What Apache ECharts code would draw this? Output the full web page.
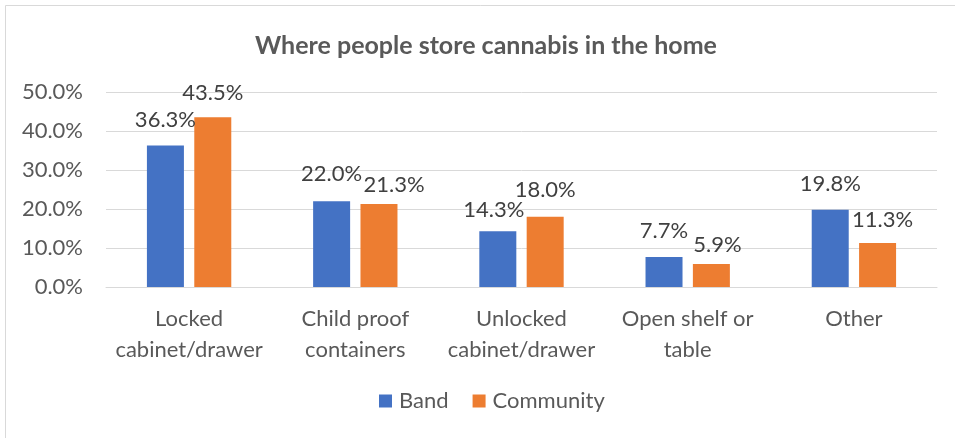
<!DOCTYPE html>
<html>
<head>
<meta charset="utf-8">
<script src="https://cdn.jsdelivr.net/npm/echarts@6/dist/echarts.min.js"></script>
<style>
  html, body { margin: 0; padding: 0; background: #ffffff; }
  #chart { width: 955px; height: 438px; }
</style>
</head>
<body>
<div id="chart"></div>
<script>
// Storage locations and the share of respondents in each group
const categories = [
  'Locked\ncabinet/drawer',
  'Child proof\ncontainers',
  'Unlocked\ncabinet/drawer',
  'Open shelf or\ntable',
  'Other'
];
const bandValues = [36.3, 22.0, 14.3, 7.7, 19.8];
const communityValues = [43.5, 21.3, 18.0, 5.9, 11.3];
const seriesNames = ['Band', 'Community'];

// Hand-placed label nudges [dx, dy] in px so neighbouring labels don't collide
const bandLabelNudge = [[0, 0], [0, -1], [-4, 5], [0, 0], [0, 0]];
const communityLabelNudge = [[0, 1.5], [15, 7], [0, -1], [6, 6.5], [5, 2.5]];

const FONT = 'Lato, "Open Sans", sans-serif';
const TEXT = '#595959';

const chart = echarts.init(document.getElementById('chart'), null, { renderer: 'canvas' });

const baseLabel = {
  show: true,
  position: 'top',
  distance: 15,
  color: '#404040',
  fontFamily: FONT,
  fontSize: 22,
  formatter: p => p.value.toFixed(1) + '%'
};

function barData(values, nudges) {
  return values.map((v, i) => ({
    value: v,
    label: { offset: nudges[i] }
  }));
}

chart.setOption({
  backgroundColor: '#ffffff',
  animation: false,
  graphic: [{
    type: 'rect',
    shape: { x: 5.5, y: 5.5, width: 960, height: 440 },
    style: { fill: 'none', stroke: '#d9d9d9', lineWidth: 1 },
    silent: true,
    z: -1
  }],
  title: {
    text: 'Where people store cannabis in the home',
    left: 250,
    top: 28,
    textStyle: { color: TEXT, fontFamily: FONT, fontSize: 25, fontWeight: 'bold' }
  },
  legend: {
    data: seriesNames,
    bottom: 21,
    left: 374,
    itemWidth: 13,
    itemHeight: 13,
    itemGap: 24,
    icon: 'rect',
    textStyle: { color: TEXT, fontFamily: FONT, fontSize: 22, padding: [0, 0, 0, 2] }
  },
  grid: { left: 106, right: 18, top: 92, bottom: 151, containLabel: false },
  xAxis: {
    type: 'category',
    data: categories,
    axisLine: { lineStyle: { color: '#d9d9d9', width: 1 } },
    axisTick: { show: false },
    axisLabel: {
      color: TEXT, fontFamily: FONT, fontSize: 22, lineHeight: 31, margin: 16, interval: 0
    }
  },
  yAxis: {
    type: 'value',
    min: 0,
    max: 50,
    interval: 10,
    axisLine: { show: false },
    axisTick: { show: false },
    splitLine: { lineStyle: { color: '#d9d9d9', width: 1 } },
    axisLabel: {
      color: TEXT, fontFamily: FONT, fontSize: 22, margin: 23,
      formatter: v => v.toFixed(1) + '%'
    }
  },
  series: [
    {
      name: seriesNames[0],
      type: 'bar',
      data: barData(bandValues, bandLabelNudge),
      barWidth: 37,
      barGap: '28%',
      itemStyle: { color: '#4472c4' },
      label: baseLabel
    },
    {
      name: seriesNames[1],
      type: 'bar',
      data: barData(communityValues, communityLabelNudge),
      barWidth: 37,
      barGap: '28%',
      itemStyle: { color: '#ed7d31' },
      label: baseLabel
    }
  ]
});
</script>
</body>
</html>
